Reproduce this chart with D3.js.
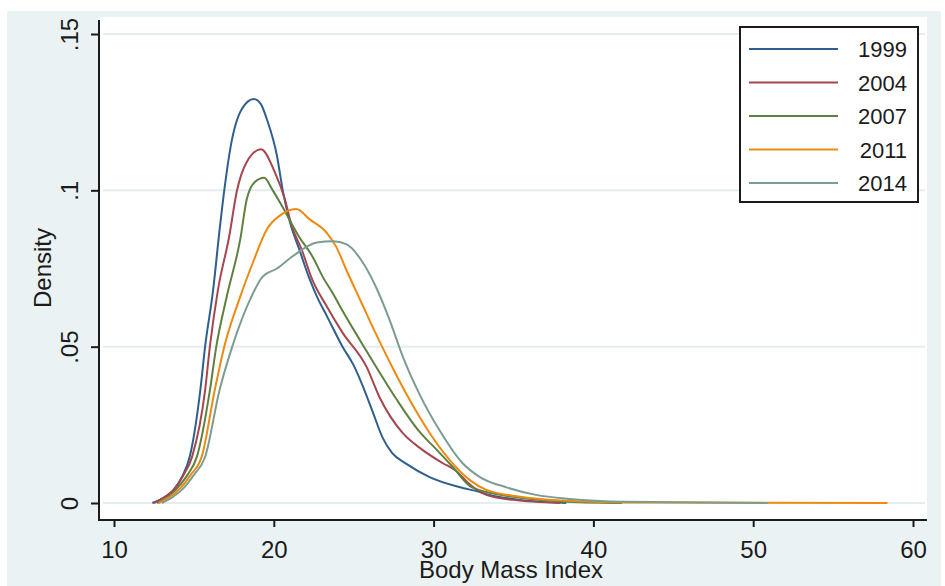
<!DOCTYPE html>
<html>
<head>
<meta charset="utf-8">
<script src="https://cdn.jsdelivr.net/npm/d3@7"></script>
<style>
  body { margin: 0; background: #fff; }
  text { font-family: "Liberation Sans", Arial, sans-serif; fill: #1b1b1b; }
</style>
</head>
<body>
<script>
// kernel density curves as [bmi, density]
const years = ["1999", "2004", "2007", "2011", "2014"];
const colors = ["#2f5f8e", "#a5464f", "#5e8140", "#ec8a12", "#7c9c91"];

const d1999 = [[12.4,0],[13.2,0.002],[13.7,0.004],[14.25,0.0083],[14.75,0.015],[15.4,0.036],[15.7,0.05],
  [16.2,0.068],[16.6,0.087],[16.9,0.1],[17.3,0.114],[18.0,0.126],[18.75,0.1292],[19.2,0.1275],[19.56,0.1228],
  [20.2,0.111],[20.56,0.1],[21.0,0.09],[21.6,0.081],[22.25,0.0715],[22.7,0.066],[23.3,0.06],[24.3,0.05],
  [25.0,0.044],[25.6,0.037],[26.2,0.029],[26.8,0.021],[27.4,0.016],[28.3,0.0125],[29.75,0.0083],
  [31.6,0.0051],[32.9,0.0035],[33.5,0.0026],[35.4,0.001],[38.3,0]];
const d2004 = [[12.5,0],[13.2,0.002],[13.7,0.004],[14.3,0.0085],[14.9,0.015],[15.7,0.036],[16.0,0.05],
  [16.5,0.068],[17.2,0.085],[17.7,0.1],[18.3,0.109],[19.2,0.1131],[20.06,0.1058],[20.7,0.097],[21.1,0.089],
  [21.75,0.081],[22.4,0.0715],[23.3,0.063],[24.3,0.0545],[25.8,0.0436],[26.6,0.034],[28.06,0.0224],
  [29.3,0.017],[30.56,0.0128],[31.4,0.0103],[32.25,0.006],[33.3,0.0026],[35.0,0.001],[37.9,0]];
const d2007 = [[12.7,0],[13.4,0.002],[14.0,0.005],[14.6,0.009],[15.2,0.015],[16.0,0.036],[16.4,0.05],
  [17.1,0.067],[17.9,0.0843],[18.3,0.097],[18.8,0.1026],[19.4,0.104],[19.9,0.1003],[20.4,0.096],
  [21.6,0.085],[22.4,0.079],[23.1,0.072],[23.7,0.067],[24.3,0.0615],[25.4,0.052],[26.4,0.0436],[27.7,0.033],
  [29.1,0.0229],[30.2,0.017],[31.2,0.0115],[32.4,0.005],[35.0,0.002],[38.0,0.0005],[41.8,0]];
const d2011 = [[12.8,0],[13.5,0.002],[14.2,0.005],[14.8,0.009],[15.5,0.015],[16.3,0.036],[16.9,0.05],
  [17.9,0.066],[18.7,0.077],[19.56,0.0875],[20.4,0.092],[21.4,0.094],[22.25,0.0907],[23.3,0.0865],
  [23.9,0.082],[24.5,0.075],[25.4,0.065],[26.4,0.054],[27.4,0.0436],[28.5,0.033],[29.75,0.0224],
  [31.0,0.0138],[32.25,0.0074],[33.3,0.0042],[35.4,0.002],[38.0,0.0008],[42.0,0.0002],[58.4,0]];
const d2014 = [[13.0,0],[13.7,0.002],[14.4,0.005],[15.0,0.009],[15.7,0.0147],[16.6,0.036],[17.4,0.05],
  [18.6,0.066],[19.3,0.0724],[20.2,0.075],[21.2,0.079],[22.7,0.0833],[23.7,0.0837],[24.56,0.0827],
  [25.56,0.077],[26.4,0.069],[27.25,0.0585],[28.06,0.047],[29.1,0.035],[30.4,0.023],[31.8,0.0128],
  [32.9,0.0083],[34.56,0.005],[36.4,0.0026],[38.5,0.0013],[42.0,0.0004],[50.9,0]];
const series = [d1999, d2004, d2007, d2011, d2014];

const xTicks = [10, 20, 30, 40, 50, 60];
const yTicks = [0, 0.05, 0.1, 0.15];
const yTickLabels = ["0", ".05", ".1", ".15"];

const width = 945, height = 586;

const svg = d3.select("body").append("svg")
  .attr("width", width)
  .attr("height", height);

// outer stata-ish panel and white plot region
svg.append("rect").attr("x", 7).attr("y", 11).attr("width", 934).attr("height", 575).attr("fill", "#eaf2f3");
svg.append("rect").attr("x", 100).attr("y", 17).attr("width", 827).attr("height", 503).attr("fill", "#fff");

const x = d3.scaleLinear().domain([10, 60]).range([114, 913]);
const y = d3.scaleLinear().domain([0, 0.15]).range([503, 34]);

// gridlines
svg.append("g").selectAll("line")
  .data(yTicks)
  .enter().append("line")
  .attr("x1", 103).attr("x2", 925)
  .attr("y1", d => y(d)).attr("y2", d => y(d))
  .attr("stroke", "#e4eeef").attr("stroke-width", 2);

// axes
const xAxis = svg.append("g")
  .attr("transform", "translate(0,520)")
  .call(d3.axisBottom(x).tickValues(xTicks).tickSize(7).tickPadding(14).tickSizeOuter(0));
xAxis.select(".domain").attr("d", "M98,0H927");

const yAxis = svg.append("g")
  .attr("transform", "translate(99,0)")
  .call(d3.axisLeft(y).tickValues(yTicks).tickFormat((d, i) => yTickLabels[i]).tickSize(8).tickSizeOuter(0));
yAxis.select(".domain").attr("d", "M0,20V521");

svg.selectAll(".domain").attr("stroke", "#1b1b1b").attr("stroke-width", 2);
svg.selectAll(".tick line").attr("stroke", "#1b1b1b").attr("stroke-width", 2);
svg.selectAll(".tick text").attr("font-size", 24).attr("font-family", "Liberation Sans, Arial, sans-serif").attr("fill", "#1b1b1b");

// stata puts y labels sideways
yAxis.selectAll(".tick text")
  .attr("x", null).attr("dy", null)
  .attr("text-anchor", "middle")
  .attr("transform", "translate(-21,0) rotate(-90)");

// axis titles
svg.append("text")
  .attr("x", 511).attr("y", 578)
  .attr("text-anchor", "middle")
  .attr("font-size", 24)
  .text("Body Mass Index");

svg.append("text")
  .attr("transform", "translate(51,268) rotate(-90)")
  .attr("text-anchor", "middle")
  .attr("font-size", 24)
  .text("Density");

// density lines
const line = d3.line()
  .x(d => x(d[0]))
  .y(d => y(d[1]))
  .curve(d3.curveMonotoneX);

svg.append("g").selectAll("path")
  .data(series)
  .enter().append("path")
  .attr("d", line)
  .attr("fill", "none")
  .attr("stroke", (d, i) => colors[i])
  .attr("stroke-width", 2);

// legend
const lg = svg.append("g");
lg.append("rect")
  .attr("x", 740).attr("y", 27).attr("width", 178).attr("height", 175)
  .attr("fill", "#fff").attr("stroke", "#1b1b1b").attr("stroke-width", 2);

const rows = lg.selectAll("g.row")
  .data(years)
  .enter().append("g")
  .attr("class", "row")
  .attr("transform", (d, i) => "translate(0," + (49 + i * 33.5) + ")");

rows.append("line")
  .attr("x1", 749).attr("x2", 838)
  .attr("stroke", (d, i) => colors[i]).attr("stroke-width", 2);

rows.append("text")
  .attr("x", 907).attr("y", 8)
  .attr("text-anchor", "end")
  .attr("font-size", 22)
  .text(d => d);
</script>
</body>
</html>
